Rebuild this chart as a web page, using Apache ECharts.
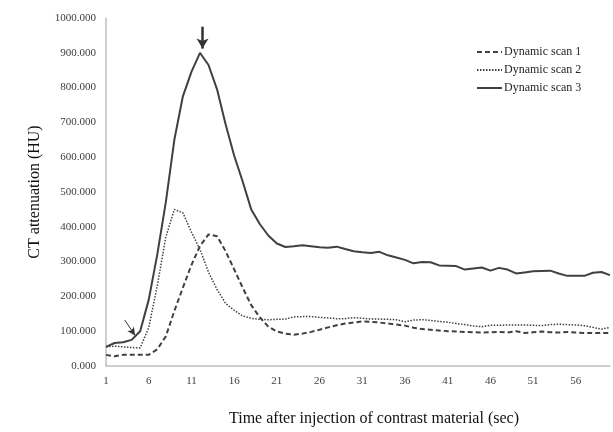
<!DOCTYPE html>
<html>
<head>
<meta charset="utf-8">
<script src="https://cdn.jsdelivr.net/npm/echarts@6/dist/echarts.min.js"></script>
<style>html,body{margin:0;padding:0;background:#fff}#c{width:613px;height:432px}</style>
</head>
<body>
<div id="c"></div>
<script>
var times = [1,2,3,4,5,6,7,8,9,10,11,12,13,14,15,16,17,18,19,20,21,22,23,24,25,26,27,28,29,30,31,32,33,34,35,36,37,38,39,40,41,42,43,44,45,46,47,48,49,50,51,52,53,54,55,56,57,58,59,60];
var scan1 = [32,28,32,32,32,32,48,85,158,225,290,345,378,373,330,278,225,175,140,113,99,93,90,93,98,104,111,117,122,125,128,127,125,122,119,116,110,106,104,102,100,99,98,97,96,97,98,96,100,95,97,99,97,96,98,96,95,95,95,95];
var scan2 = [55,57,55,53,52,110,230,370,450,440,385,335,270,220,180,160,144,137,134,133,134,135,141,142,142,140,138,136,136,139,137,135,135,134,133,127,132,133,131,128,126,122,119,115,113,117,117,118,118,118,117,116,119,120,119,118,116,111,106,111];
var scan3 = [55,66,68,75,100,190,320,470,650,775,845,900,865,795,695,605,530,450,408,375,352,342,344,347,344,341,340,343,336,330,327,325,328,318,312,305,295,299,298,289,288,287,277,280,283,274,282,277,266,269,272,273,274,266,259,259,259,268,270,261];
var seriesNames = ['Dynamic scan 1','Dynamic scan 2','Dynamic scan 3'];
var xLabelStep = 5;
var peakArrow = [[12.3, 975], [12.3, 912]];
var smallArrow = [[3.2, 132], [4.4, 88]];

function pairs(vals){ return vals.map(function(v,i){ return [times[i], v]; }); }
var serif = '"Liberation Serif", "Times New Roman", serif';
var dark = '#404040';

var chart = echarts.init(document.getElementById('c'), null, {renderer:'canvas'});
chart.setOption({
  animation: false,
  backgroundColor: '#fff',
  grid: {left: 106, right: 0, top: 18, bottom: 65},
  legend: {
    orient: 'vertical', left: 471, top: 40,
    itemWidth: 25, itemHeight: 10, itemGap: 4,
    itemStyle: {color: 'rgba(0,0,0,0)', borderWidth: 0, opacity: 0},
    textStyle: {fontFamily: serif, fontSize: 12, color: '#262626', lineHeight: 14, padding:[0,0,0,-3]},
    data: seriesNames
  },
  xAxis: {
    type: 'value', min: 1, max: 60, interval: 1,
    name: 'Time after injection of contrast material (sec)',
    nameLocation: 'middle', nameGap: 45,
    nameTextStyle: {fontFamily: serif, fontSize: 16, color: '#111', padding: [0,0,0,32]},
    axisLine: {show: true, lineStyle: {color: '#bfbfbf', width: 1.5}},
    axisTick: {show: false},
    splitLine: {show: false},
    axisLabel: {fontFamily: serif, fontSize: 11, color: '#404040', margin: 10,
      formatter: function(v){ return ((v - times[0]) % xLabelStep === 0) ? String(v) : ''; }}
  },
  yAxis: {
    type: 'value', min: 0, max: 1000, interval: 100,
    name: 'CT attenuation (HU)', nameLocation: 'middle', nameGap: 63,
    nameTextStyle: {fontFamily: serif, fontSize: 16, color: '#111'},
    axisLine: {show: true, lineStyle: {color: '#bfbfbf', width: 1.5}},
    axisTick: {show: false},
    splitLine: {show: false},
    axisLabel: {fontFamily: serif, fontSize: 11, color: '#404040', margin: 10,
      formatter: function(v){ return v.toFixed(3); }}
  },
  series: [
    {name: seriesNames[0], type: 'line', data: pairs(scan1), symbol: 'none',
     lineStyle: {color: dark, width: 2, type: [5,3]}, itemStyle: {color: dark}},
    {name: seriesNames[1], type: 'line', data: pairs(scan2), symbol: 'none',
     lineStyle: {color: dark, width: 1.5, type: [1.5,1.5]}, itemStyle: {color: dark}},
    {name: seriesNames[2], type: 'line', data: pairs(scan3), symbol: 'none',
     lineStyle: {color: dark, width: 2}, itemStyle: {color: dark},
     markLine: {silent: true, animation: false, label: {show: false},
       symbol: ['none', 'arrow'],
       data: [
         [{coord: peakArrow[0], symbol: 'none', lineStyle: {width: 2.5, color: '#333', type: 'solid'}, symbolSize: [9, 10]},
          {coord: peakArrow[1], symbol: 'arrow', symbolSize: [9, 10]}],
         [{coord: smallArrow[0], symbol: 'none', lineStyle: {width: 1, color: '#333', type: 'solid'}},
          {coord: smallArrow[1], symbol: 'arrow', symbolSize: [6, 8]}]
       ]}}
  ]
});
</script>
</body>
</html>
